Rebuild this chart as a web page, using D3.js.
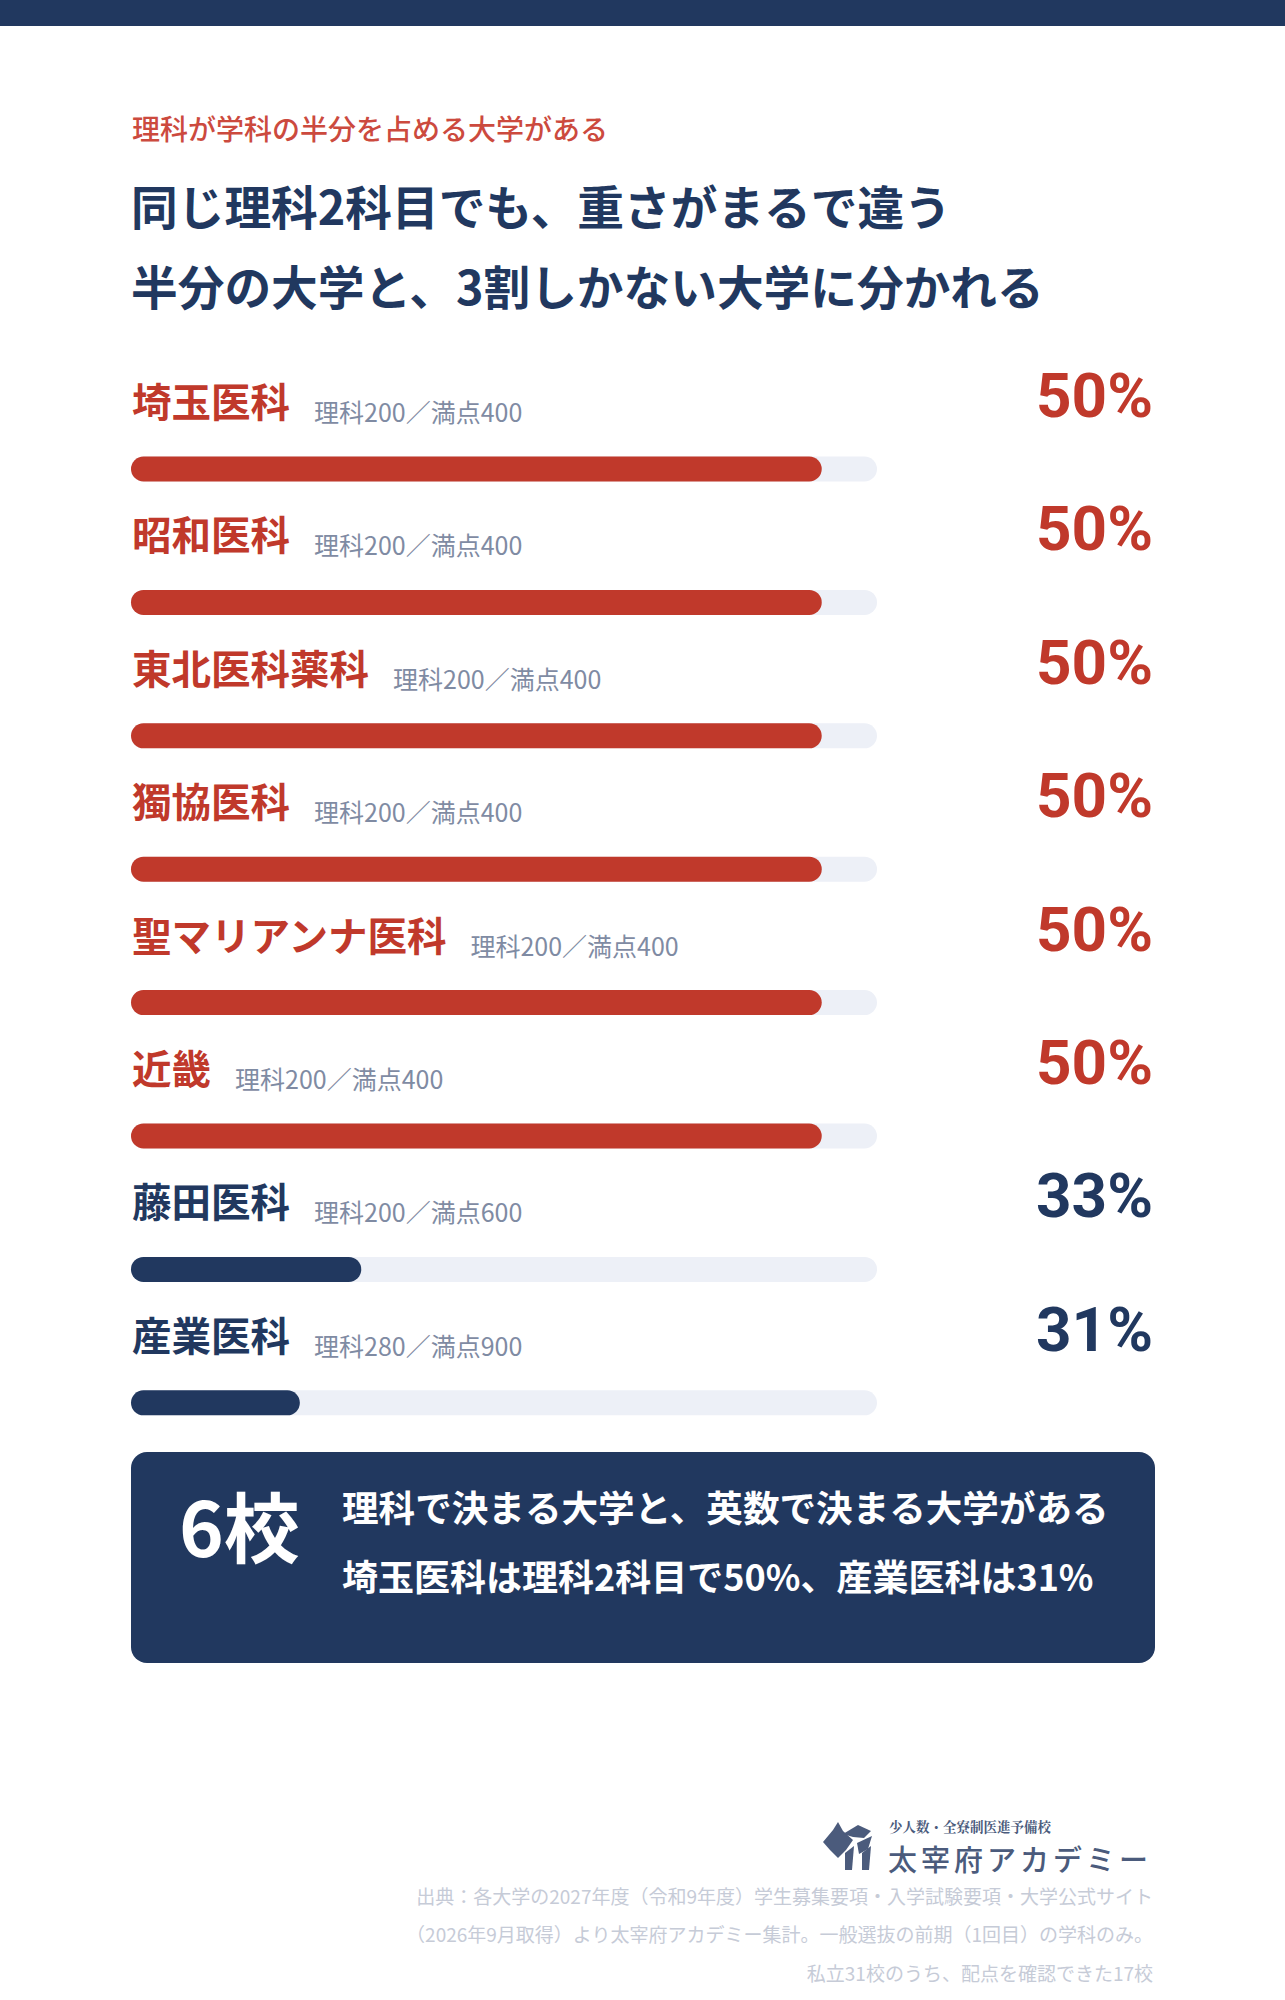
<!DOCTYPE html>
<html><head><meta charset="utf-8">
<script src="https://cdn.jsdelivr.net/npm/d3@7/dist/d3.min.js"></script>
<style>
html,body{margin:0;padding:0;background:#fff;}
svg{display:block;}
</style></head>
<body><svg id="chart" width="1285" height="2000"></svg>
<script>
// ---- data ----
const kicker = "理科が学科の半分を占める大学がある";
const titleLines = ["同じ理科2科目でも、重さがまるで違う", "半分の大学と、3割しかない大学に分かれる"];
const schools = ["埼玉医科","昭和医科","東北医科薬科","獨協医科","聖マリアンナ医科","近畿","藤田医科","産業医科"];
const sciencePoints = [200,200,200,200,200,200,200,280];
const totalPoints   = [400,400,400,400,400,400,600,900];
const percentLabels = ["50%","50%","50%","50%","50%","50%","33%","31%"];
const calloutBig = "6校";
const calloutLines = ["理科で決まる大学と、英数で決まる大学がある", "埼玉医科は理科2科目で50%、産業医科は31%"];
const logoSub = "少人数・全寮制医進予備校";
const logoMain = "太宰府アカデミー";
const footerLines = [
  "出典：各大学の2027年度（令和9年度）学生募集要項・入学試験要項・大学公式サイト",
  "（2026年9月取得）より太宰府アカデミー集計。一般選抜の前期（1回目）の学科のみ。",
  "私立31校のうち、配点を確認できた17校"
];

// ---- style ----
const NAVY = "#21385f", RED = "#c0392b", KICK = "#cc4a3e", GRAY = "#7f8ba3", TRACK = "#edf0f7", FOOT = "#c6cbd7";
const JP = "'Noto Sans CJK JP','Noto Sans',sans-serif";

const svg = d3.select("#chart");
svg.append("rect").attr("x",0).attr("y",0).attr("width",1285).attr("height",26).attr("fill",NAVY);

svg.append("text").attr("x",132).attr("y",140).style("font-family",JP).attr("font-size",28).attr("font-weight",500)
  .attr("fill",KICK).text(kicker);
svg.selectAll("text.title").data(titleLines).join("text").attr("class","title")
  .attr("x",131).attr("y",(d,i)=>225+i*80).style("font-family",JP).attr("font-size",46.7).attr("font-weight",700)
  .attr("fill",NAVY).text(d=>d);

const rows = schools.map((s,i)=>({name:s, sci:sciencePoints[i], tot:totalPoints[i],
  pct:sciencePoints[i]/totalPoints[i]*100, label:percentLabels[i]}));

const x = d3.scaleLinear().domain([25,52]).range([131,877]);
const y = d3.scaleBand().domain(schools).range([386, 386+8*133.4]).paddingInner(0);
const barH = 25;

const g = svg.selectAll("g.row").data(rows).join("g").attr("class","row")
  .attr("transform",d=>`translate(0,${y(d.name)})`);

g.each(function(d){
  const sel = d3.select(this);
  const col = d.pct >= 50 ? RED : NAVY;
  const nm = sel.append("text").attr("x",132).attr("y",31).style("font-family",JP).attr("font-size",39.5).attr("font-weight",700)
    .attr("fill",col).text(d.name);
  const w = nm.node().getComputedTextLength();
  sel.append("text").attr("x",132+w+24).attr("y",36).style("font-family",JP).attr("font-size",25).attr("font-weight",400)
    .attr("fill",GRAY).text(`理科${d.sci}／満点${d.tot}`);
  sel.append("text").attr("x",1153).attr("y",31).attr("text-anchor","end")
    .style("font-family","Roboto, 'Noto Sans CJK JP', sans-serif")
    .attr("font-size",62).attr("font-weight",700).attr("fill",col).text(d.label);
  sel.append("rect").attr("x",x(25)).attr("y",83-barH/2).attr("width",x(52)-x(25)).attr("height",barH)
    .attr("rx",barH/2).attr("fill",TRACK);
  sel.append("rect").attr("x",x(25)).attr("y",83-barH/2).attr("width",x(d.pct)-x(25)).attr("height",barH)
    .attr("rx",barH/2).attr("fill",col);
});

// callout box
svg.append("rect").attr("x",131).attr("y",1452).attr("width",1024).attr("height",211).attr("rx",16).attr("fill",NAVY);
svg.append("text").attr("x",179).attr("y",1557).style("font-family",JP).attr("font-size",76).attr("font-weight",700).attr("fill","#fff").text(calloutBig);
svg.selectAll("text.cl").data(calloutLines).join("text").attr("class","cl")
  .attr("x",342).attr("y",(d,i)=>1522+i*69).style("font-family",JP).attr("font-size",(d,i)=>i===0?36.6:36)
  .attr("font-weight",700).attr("fill","#fff").text(d=>d);

// logo
const LOGO = "#4b5b7c";
const lg = svg.append("g").attr("fill",LOGO);
lg.append("path").attr("d","M823,1842 L833,1830 L838,1822 L843,1831 L853,1840 L846,1850 L838,1858 L830,1850 Z");
lg.append("path").attr("d","M843,1834 L858,1825 L871,1831 L864,1838 L853,1837 Z");
lg.append("path").attr("d","M857,1843 L872,1836 L868,1849 L859,1854 Z");
lg.append("path").attr("d","M845,1853 L854,1846 L852,1870 L845,1870 Z");
lg.append("path").attr("d","M862,1853 L871,1846 L869,1870 L862,1870 Z");
svg.append("text").attr("x",889).attr("y",1832).style("font-family","'Noto Serif CJK JP','Noto Sans CJK JP',serif")
  .attr("font-size",13.5).attr("font-weight",700).attr("fill",LOGO).text(logoSub);
svg.append("text").attr("x",888).attr("y",1871).style("font-family",JP).attr("font-size",29).attr("font-weight",500)
  .attr("letter-spacing",4).attr("fill",LOGO).text(logoMain);

svg.selectAll("text.ft").data(footerLines).join("text").attr("class","ft")
  .attr("x",1153).attr("y",(d,i)=>1904+i*38.3).attr("text-anchor","end").style("font-family",JP)
  .attr("font-size",19).attr("fill",FOOT).text(d=>d);
</script></body></html>
